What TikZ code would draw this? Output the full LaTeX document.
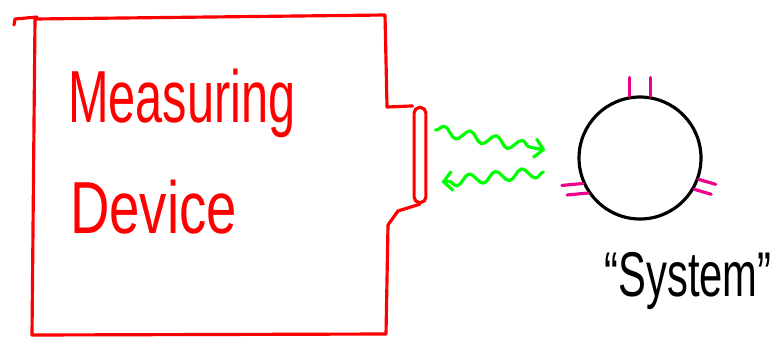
\documentclass[tikz,border=0pt]{standalone}
\usepackage{fontspec}
\setmainfont{Liberation Sans}
\usetikzlibrary{arrows.meta,decorations.pathmorphing,calc}

\tikzset{
  pen/.style={line width=1.8pt,line cap=round,line join=round},
  hand/.style={inner sep=0pt,xscale=0.66},
  tickmark/.style={pen,magenta},
  wave/.style={pen,green,decorate,
    decoration={snake,segment length=15pt,amplitude=3pt,post length=3pt}},
}

\begin{document}
\begin{tikzpicture}[x=0.02cm,y=-0.02cm,>={Straight Barb[length=5pt,width=11pt]}]
		\useasboundingbox (0,0) rectangle (776,345);
		
		% ---- 测量装置：端口 ----
		\node[pen,draw=red,rounded corners=3pt,minimum width=0.22cm,minimum height=1.9cm] (port) at (420,155) {};
		
		% ---- 测量装置：外框 ----
		\draw[pen,red] (port.north west) -- (387,107) -- (385,15) -- (35,19) -- (32,335) -- (386,334) -- (388,225) -- (398,211) -- (port.south);
		\draw[pen,red] (14,25) -- (15,19) -- (37,17);
		
		% ---- 文字 ----
		\node[hand,red,anchor=base west,font=\fontsize{42}{48}\selectfont] (meas) at (68,122) {Measuring};
		\node[hand,red,anchor=base west,font=\fontsize{42}{48}\selectfont,xscale=1.12] (dev) at (70,233) {Device};
		
		% ---- 系统 ----
		\node[pen,draw,circle,minimum size=2.44cm] (sys) at (640,158) {};
		\node[hand,anchor=base,font=\fontsize{36}{42}\selectfont] (lbl) at (688,296) {“System”};
		
		% ---- 小刻痕 ----
		\foreach \a in {80,100} \draw[tickmark] (sys.\a) -- ++(0,-19);
		\foreach \a in {204,214} \draw[tickmark] (sys.\a) -- ++(-21,2);
		\foreach \a in {330,340} \draw[tickmark] (sys.\a) -- ++(17,5);
		
		% ---- 往返信号 ----
		\coordinate (w1a) at ($(port.east)+(8,-25)$);
		\coordinate (w1b) at ($(sys.west)+(-32,-8)$);
		\coordinate (w2a) at ($(sys.west)+(-34,14)$);
		\coordinate (w2b) at ($(port.east)+(14,27)$);
		\draw[wave,->] (w1a) -- (w1b);
		\draw[wave,->] (w2a) -- (w2b);
		
	\end{tikzpicture}
\end{document}
